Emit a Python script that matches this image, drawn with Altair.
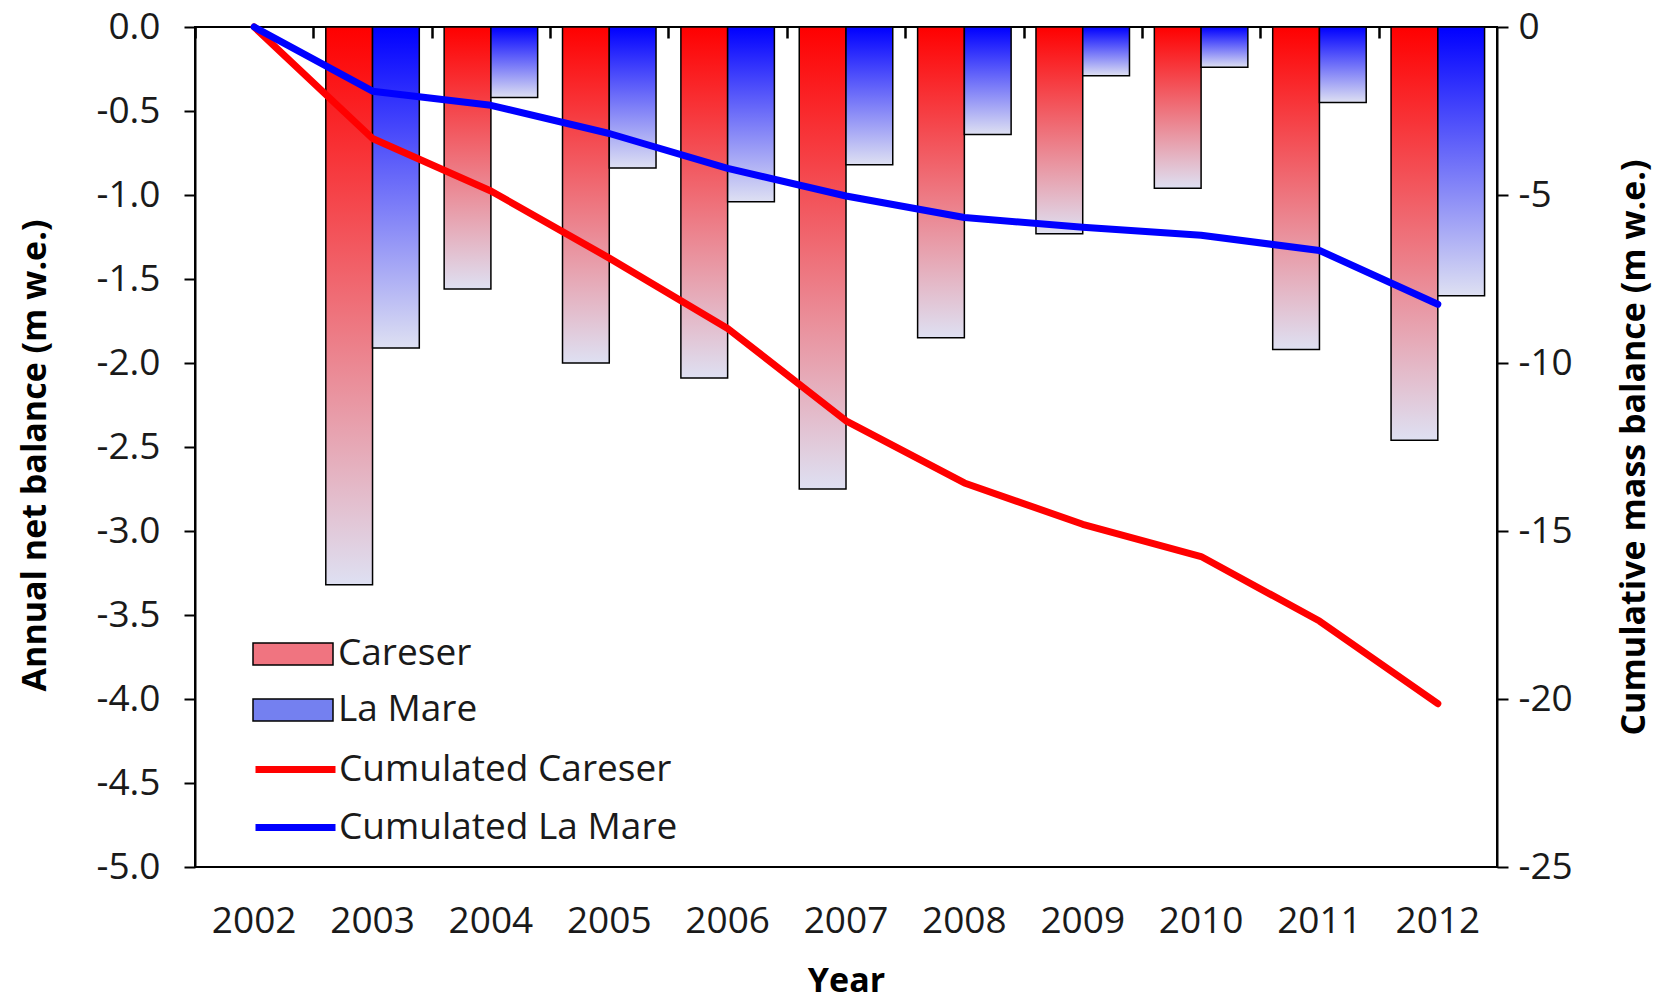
import altair as alt
import pandas as pd

# Hydrological years shown on the category axis
years = ["2002", "2003", "2004", "2005", "2006", "2007",
         "2008", "2009", "2010", "2011", "2012"]
annual_years = years[1:]

# Annual net balance (m w.e.)
careser_annual = [-3.32, -1.56, -2.00, -2.09, -2.75, -1.85, -1.23, -0.96, -1.92, -2.46]
lamare_annual = [-1.91, -0.42, -0.84, -1.04, -0.82, -0.64, -0.29, -0.24, -0.45, -1.60]

# Cumulative mass balance (m w.e.)
careser_cum = [0.0, -3.32, -4.88, -6.88, -8.97, -11.72, -13.57, -14.80, -15.76, -17.68, -20.14]
lamare_cum = [0.0, -1.91, -2.33, -3.17, -4.21, -5.03, -5.67, -5.96, -6.20, -6.65, -8.25]

bar_series = ["Careser", "La Mare"]
line_series = ["Cumulated Careser", "Cumulated La Mare"]

left_ticks = [0.0, -0.5, -1.0, -1.5, -2.0, -2.5, -3.0, -3.5, -4.0, -4.5, -5.0]
right_ticks = [0, -5, -10, -15, -20, -25]

annual_df = pd.DataFrame({
    "year": annual_years * 2,
    "series": [bar_series[0]] * len(annual_years) + [bar_series[1]] * len(annual_years),
    "value": careser_annual + lamare_annual,
})
cum_df = pd.DataFrame({
    "year": years * 2,
    "series": [line_series[0]] * len(years) + [line_series[1]] * len(years),
    "value": careser_cum + lamare_cum,
})

FONT = "Open Sans"
LABEL_SIZE = 37
TITLE_SIZE = 34
MINUS = "\u2212"
PLOT_W = 1302
PLOT_H = 840
PAD_INNER = 0.21
# half of the gap between neighbouring bands, in pixels
BAND_GAP_HALF = PLOT_W / len(years) * PAD_INNER / 2

RED_STOPS = [{"offset": 0, "color": "#FF0000"}, {"offset": 1, "color": "#DEE0F2"}]
BLUE_STOPS = [{"offset": 0, "color": "#0000FF"}, {"offset": 1, "color": "#DEE0F2"}]


def grad(stops):
    return {"gradient": "linear", "x1": 0, "y1": 0, "x2": 0, "y2": 1, "stops": stops}


x_scale = alt.Scale(domain=years, paddingInner=PAD_INNER, paddingOuter=PAD_INNER / 2)
xoff_scale = alt.Scale(domain=bar_series, paddingInner=0, paddingOuter=0)
left_scale = alt.Scale(domain=[-5, 0], nice=False, zero=False)
right_scale = alt.Scale(domain=[-25, 0], nice=False, zero=False)

axis_bottom = alt.Axis(
    orient="bottom", ticks=False, domain=False, labelAngle=0, labelPadding=36,
    title="Year", titleY=114, titleBaseline="middle", titleAlign="center",
)
# category ticks at the band boundaries, hanging down from the zero line
axis_top_ticks = alt.Axis(
    orient="top", labels=False, domain=False, ticks=True, tickSize=11,
    offset=-11, bandPosition=0, tickOffset=-BAND_GAP_HALF, tickWidth=2.5, title=None,
)
axis_left = alt.Axis(
    orient="left", values=left_ticks, tickSize=11, labelPadding=24,
    labelExpr="replace(format(datum.value, '.1f'), '" + MINUS + "', '-')",
    title="Annual net balance (m w.e.)", titleAngle=270, titleX=-160, titleY=428,
    titleAlign="center", titleBaseline="middle",
)
axis_right = alt.Axis(
    orient="right", values=right_ticks, tickSize=11, labelPadding=10,
    labelExpr="replace(format(datum.value, 'd'), '" + MINUS + "', '-')",
    title="Cumulative mass balance (m w.e.)", titleAngle=270, titleX=137, titleY=420,
    titleAlign="center", titleBaseline="middle",
)


def build(gradient_legend):
    base = alt.Chart(annual_df)

    def bars(name, stops, axis):
        return base.transform_filter(alt.datum.series == name).mark_bar(
            fill=alt.Gradient(**grad(stops)), stroke="black", strokeWidth=1.5
        ).encode(
            x=alt.X("year:O", scale=x_scale, axis=axis_bottom if axis else None),
            xOffset=alt.XOffset("series:N", scale=xoff_scale),
            y=alt.Y("value:Q", scale=left_scale, axis=axis_left if axis else None),
        )

    bars_c = bars(bar_series[0], RED_STOPS, True)
    bars_l = bars(bar_series[1], BLUE_STOPS, False)

    line_legend = alt.Legend(
        orient="none", legendX=57, legendY=719, title=None, padding=0,
        symbolType="M-2,0H2", symbolSize=1600, symbolStrokeWidth=7,
        symbolOffset=20, labelOffset=20, rowPadding=16,
        labelFont=FONT, labelFontSize=LABEL_SIZE, labelColor="#1a1a1a",
        labelLimit=600,
    )
    lines = alt.Chart(cum_df).mark_line(
        strokeWidth=7, strokeJoin="round", strokeCap="round"
    ).encode(
        x=alt.X("year:O", scale=x_scale, axis=axis_top_ticks),
        y=alt.Y("value:Q", scale=right_scale, axis=axis_right),
        stroke=alt.Stroke("series:N", scale=alt.Scale(domain=line_series, range=["#FF0000", "#0000FF"]),
                          legend=line_legend),
    )

    bar_legend_args = dict(
        orient="none", legendX=57, legendY=606, title=None, padding=0,
        symbolType="M-2,-0.55H2V0.55H-2Z", symbolSize=1600,
        symbolStrokeColor="black", symbolStrokeWidth=1.5, symbolOpacity=1,
        symbolOffset=20, labelOffset=24, rowPadding=17,
        labelFont=FONT, labelFontSize=LABEL_SIZE, labelColor="#1a1a1a",
        labelLimit=600,
    )
    if gradient_legend:
        bar_legend_args["encode"] = {
            "symbols": {
                "fill": {
                    "condition": {"test": "datum.value === 'Careser'", "value": grad(RED_STOPS)},
                    "value": grad(BLUE_STOPS),
                }
            }
        }
    bar_key = base.transform_filter("false").mark_square().encode(
        fill=alt.Fill("series:N", scale=alt.Scale(domain=bar_series, range=["#F07480", "#7480F0"]),
                      legend=alt.Legend(**bar_legend_args)),
    )

    chart = alt.layer(bars_c, bars_l, lines, bar_key).resolve_scale(
        y="independent"
    ).resolve_axis(
        x="independent", y="independent"
    ).properties(
        width=PLOT_W, height=PLOT_H,
        autosize=alt.AutoSizeParams(type="none"),
        padding={"left": 195, "top": 27, "right": 170, "bottom": 133},
        background="white",
    ).configure_view(
        stroke="black", strokeWidth=2
    ).configure_axis(
        grid=False, domainColor="black", domainWidth=2, tickColor="black", tickWidth=2,
        labelFont=FONT, labelFontSize=LABEL_SIZE, labelColor="#1a1a1a",
        titleFont=FONT, titleFontSize=TITLE_SIZE, titleFontWeight="bold", titleColor="black",
    )
    return chart


try:
    chart = build(True)
    chart.to_dict()
except Exception:
    chart = build(False)

chart.save("out.html", embed_options={"renderer": "svg", "actions": False})
